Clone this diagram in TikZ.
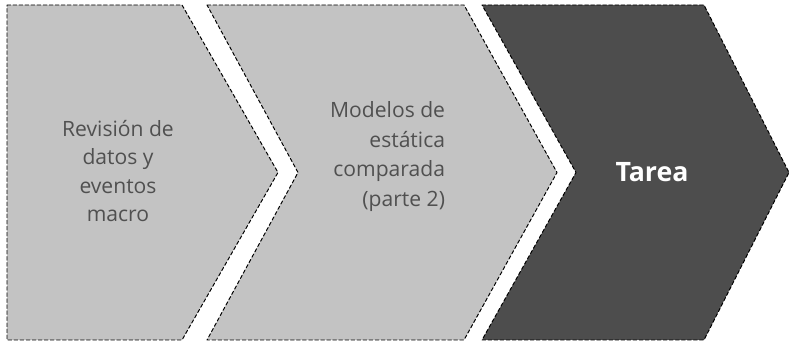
\documentclass[tikz,border=0pt]{standalone}
\usepackage{fontspec}
\setmainfont{Open Sans}
\usetikzlibrary{calc}
\usepackage{tkz-euclide}
\definecolor{StepClr}{HTML}{C3C3C3}
\definecolor{TaskClr}{HTML}{4D4D4D}
\definecolor{TextClr}{HTML}{505050}

\begin{document}
\begin{tikzpicture}
\useasboundingbox (0,0) rectangle (19.775,8.575);
\tkzSetUpLine[line width=0.7pt,color=black]

\tkzDefPoints{0.175/8.45/A,4.55/8.45/B,6.95/4.2625/C,4.55/0.075/D,0.175/0.075/E}
\tkzDefPoints{5.175/8.45/F,11.6/8.45/G,13.925/4.2625/H,11.6/0.075/I,5.175/0.075/J,7.45/4.2625/K}
\tkzDefPoints{12.05/8.45/L,17.6/8.45/M,19.725/4.2625/N,17.6/0.075/O,12.05/0.075/P,14.4/4.2625/Q}
\tkzDefPoints{2.95/4.3/R,11.25/4.66/S,16.3/4.275/U}

\tkzFillPolygon[fill=StepClr](A,B,C,D,E)
\tkzFillPolygon[fill=StepClr](F,G,H,I,J,K)
\tkzFillPolygon[fill=TaskClr](L,M,N,O,P,Q)

\tkzDrawPolygon[dashed,dash pattern=on 2.5pt off 1.8pt](A,B,C,D,E)
\tkzDrawPolygon[dashed,dash pattern=on 2.5pt off 1.8pt](F,G,H,I,J,K)
\tkzDrawPolygon[dashed,dash pattern=on 2.5pt off 1.8pt](L,M,N,O,P,Q)

\node[text=TextClr,font=\fontsize{15}{20}\selectfont,align=center] (revision) at (R) {Revisi\'on de\\datos y\\eventos\\macro};
\node[text=TextClr,font=\fontsize{15}{21}\selectfont,align=right,anchor=east] (modelos) at (S) {Modelos de\\est\'atica\\comparada\\(parte 2)};
\node[text=white,font=\fontsize{19}{24}\selectfont\bfseries] (tarea) at (U) {Tarea};

\end{tikzpicture}
\end{document}
